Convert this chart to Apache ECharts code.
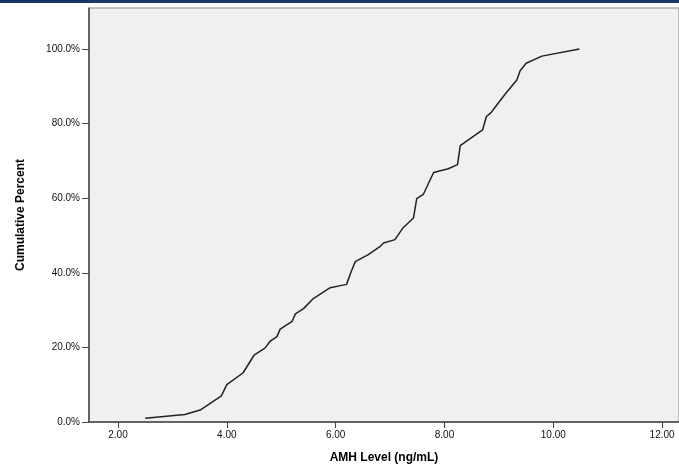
<!DOCTYPE html>
<html>
<head>
<meta charset="utf-8">
<script src="https://cdn.jsdelivr.net/npm/echarts@6/dist/echarts.min.js"></script>
<style>
  html, body { margin: 0; padding: 0; background: #fff; }
  #chart { width: 679px; height: 469px; }
</style>
</head>
<body>
<div id="chart"></div>
<script>
// 数据：AMH 水平与累计百分比
var amhLevel = [2.50, 3.23, 3.51, 3.90, 4.00, 4.30, 4.50, 4.70, 4.80, 4.92, 4.98, 5.20, 5.26, 5.41, 5.59, 5.90, 6.20, 6.29, 6.36, 6.60, 6.82, 6.88, 7.09, 7.24, 7.43, 7.49, 7.61, 7.80, 8.07, 8.24, 8.29, 8.70, 8.77, 8.86, 8.93, 9.12, 9.33, 9.39, 9.50, 9.79, 10.48];
var cumPercent = [1.0, 2.0, 3.2, 7.0, 10.0, 13.2, 17.9, 19.8, 21.7, 22.9, 24.9, 27.0, 29.0, 30.4, 33.1, 36.0, 36.9, 40.5, 43.0, 44.9, 47.1, 48.0, 48.9, 52.1, 54.7, 59.9, 61.0, 66.9, 67.9, 69.0, 74.1, 78.3, 81.9, 83.0, 84.4, 88.0, 91.7, 94.2, 96.2, 98.1, 100.0];
var xTicks = [2, 4, 6, 8, 10, 12];
var yTicks = [0, 20, 40, 60, 80, 100];

var seriesData = amhLevel.map(function (x, i) { return [x, cumPercent[i]]; });

var myChart = echarts.init(document.getElementById('chart'));

var option = {
  backgroundColor: '#fff',
  animation: false,
  textStyle: { fontFamily: 'Liberation Sans, Arial, sans-serif' },
  graphic: [{
    type: 'rect',
    shape: { x: 0, y: 0, width: 679, height: 3 },
    style: { fill: '#1c3566' }
  }],
  grid: {
    left: 89,
    right: 0,
    top: 8,
    bottom: 46,
    show: true,
    backgroundColor: '#f0f0f0',
    borderColor: '#8a8a8a',
    borderWidth: 1
  },
  xAxis: {
    type: 'value',
    min: 1.467,
    max: 12.31,
    name: 'AMH Level (ng/mL)',
    nameLocation: 'middle',
    nameGap: 30,
    nameTextStyle: { fontSize: 12, fontWeight: 'bold', color: '#000' },
    axisLine: { lineStyle: { color: '#444', width: 1.5 } },
    axisTick: { show: true, length: 6, customValues: xTicks, lineStyle: { color: '#444' } },
    axisLabel: {
      customValues: xTicks,
      fontSize: 10,
      color: '#111',
      margin: 8,
      formatter: function (v) { return v.toFixed(2); }
    },
    splitLine: { show: false }
  },
  yAxis: {
    type: 'value',
    min: 0,
    max: 111,
    name: 'Cumulative Percent',
    nameLocation: 'middle',
    nameGap: 62,
    nameTextStyle: { fontSize: 12, fontWeight: 'bold', color: '#000' },
    axisLine: { show: true, lineStyle: { color: '#444', width: 1.5 } },
    axisTick: { show: true, length: 7, customValues: yTicks, lineStyle: { color: '#444' } },
    axisLabel: {
      customValues: yTicks,
      fontSize: 10,
      color: '#111',
      margin: 9,
      formatter: function (v) { return v.toFixed(1) + '%'; }
    },
    splitLine: { show: false }
  },
  series: [{
    type: 'line',
    data: seriesData,
    showSymbol: false,
    symbol: 'none',
    lineStyle: { color: '#222', width: 1.5 }
  }]
};

myChart.setOption(option);
</script>
</body>
</html>
